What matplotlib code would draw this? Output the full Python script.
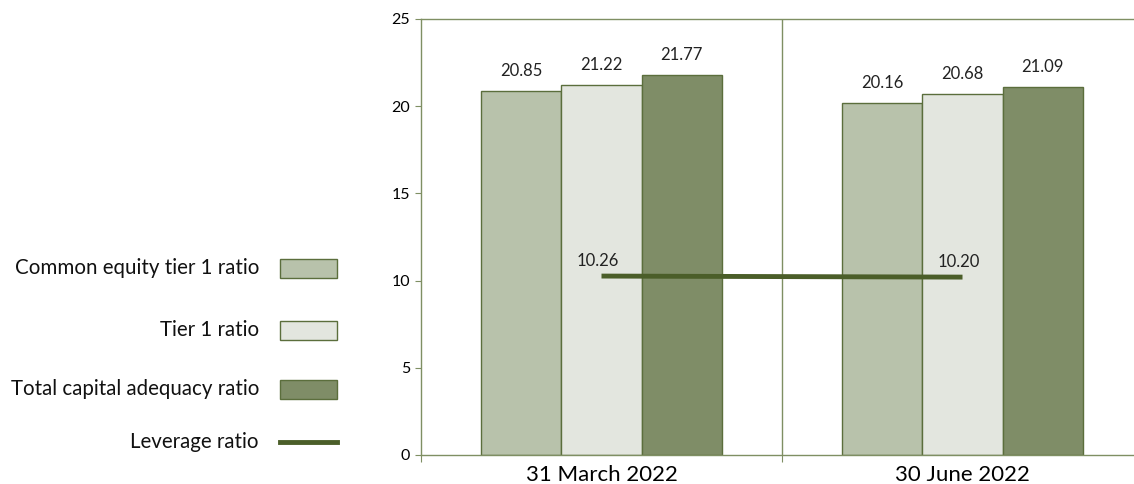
import numpy as np
import matplotlib.pyplot as plt
from matplotlib.patches import Rectangle
from matplotlib.lines import Line2D

plt.rcParams['font.family'] = ['Lato', 'DejaVu Sans']

dates = ['31 March 2022', '30 June 2022']
series = ['Common equity tier 1 ratio', 'Tier 1 ratio', 'Total capital adequacy ratio']
cet1 = [20.85, 20.16]
tier1 = [21.22, 20.68]
total = [21.77, 21.09]
leverage = [10.26, 10.20]

colors = ['#b8c2ab', '#e3e6df', '#7f8d67']
edge = '#5b6e3c'
line_col = '#4b5e29'
axis_col = '#7f8f63'

fig = plt.figure(figsize=(11.34, 4.84), dpi=100)
ax = fig.add_axes([421 / 1134, 29 / 484, 713 / 1134, 436 / 484])

centers = np.array([0.5, 1.5])
w = 0.222
for i, vals in enumerate([cet1, tier1, total]):
    xs = centers + (i - 1) * w
    ax.bar(xs, vals, width=w, color=colors[i], edgecolor=edge, linewidth=1.0, zorder=2)
    for x, v in zip(xs, vals):
        ax.text(x, v + 0.7, f'{v:.2f}', ha='center', va='bottom', fontsize=12, color='#222222')

ax.plot(centers, leverage, color=line_col, lw=3.5, solid_capstyle='butt', zorder=3)
for x, v in zip(centers, leverage):
    ax.text(x - 0.01, v + 0.4, f'{v:.2f}', ha='center', va='bottom', fontsize=12, color='#222222')

ax.axvline(1.0, color=axis_col, lw=1.0, zorder=1)

ax.set_yticks([0, 5, 10, 15, 20, 25])
ax.set_xticks([0, 1, 2])
ax.set_xticklabels([])
ax.set_xticks(centers, minor=True)
ax.set_xticklabels(dates, minor=True, fontsize=16)
ax.set_xlim(0, 2 * 713 / 722)
ax.set_ylim(0, 25)
ax.tick_params(axis='x', which='minor', length=0, pad=7)
ax.tick_params(axis='x', which='major', length=5, color=axis_col)
ax.tick_params(axis='y', length=4, color=axis_col, labelsize=11.5, pad=4)

for s in ['left', 'top', 'bottom']:
    ax.spines[s].set_color(axis_col)
    ax.spines[s].set_linewidth(1.0)
ax.spines['right'].set_visible(False)

# legend drawn by hand on the left
rows = [268, 330, 389, 442]
labels = series + ['Leverage ratio']
for k, (y, lab) in enumerate(zip(rows, labels)):
    fy = 1 - y / 484
    fig.text(259 / 1134, fy, lab, ha='right', va='center', fontsize=14.8, color='#111111')
    if k < 3:
        fig.patches.append(Rectangle((280 / 1134, fy - 9.5 / 484), 57 / 1134, 19 / 484,
                                     transform=fig.transFigure, facecolor=colors[k],
                                     edgecolor=edge, linewidth=1.0))
    else:
        fig.lines.append(Line2D([280 / 1134, 337 / 1134], [fy, fy], transform=fig.transFigure,
                                color=line_col, lw=3.5))

fig.savefig('out.png', dpi=100)
